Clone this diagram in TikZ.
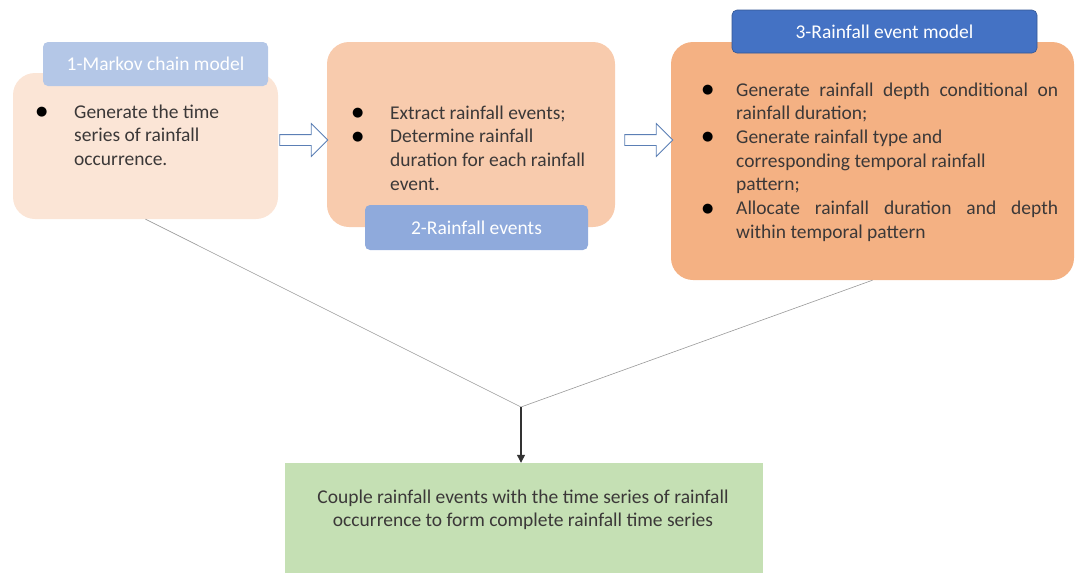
\documentclass[tikz,border=0pt]{standalone}
\usepackage{fontspec}
\setmainfont{Carlito}
\newfontfamily\symfont{DejaVu Sans}
\usetikzlibrary{shapes.arrows,arrows.meta}

\definecolor{peachlight}{HTML}{FBE5D6}
\definecolor{peachmid}{HTML}{F8CBAD}
\definecolor{peachdark}{HTML}{F4B183}
\definecolor{taglight}{HTML}{B4C7E7}
\definecolor{tagmid}{HTML}{8FAADC}
\definecolor{tagdark}{HTML}{4472C4}
\definecolor{greenbox}{HTML}{C5E0B4}
\definecolor{bodytext}{HTML}{3B3838}
\definecolor{arrowline}{HTML}{5B7FB5}

\newcommand{\dotmark}{\raisebox{2.5pt}{\symfont\fontsize{13}{13}\selectfont\textcolor{black}{●}}}

\tikzset{
    box/.style={rounded corners=22pt, inner sep=0},
    tag/.style={rounded corners=5pt, inner sep=0, text=white,
        font=\fontsize{19.5}{22}\selectfont},
    body/.style={anchor=base west, inner sep=0, text=bodytext,
        font=\fontsize{19.5}{23.7}\selectfont},
    hollow/.style={single arrow, draw=arrowline, fill=white, line width=0.8pt,
        inner sep=5pt, minimum height=48pt, single arrow head extend=11pt},
    link/.style={draw=gray!80, line width=0.6pt},
}

\begin{document}
\begin{tikzpicture}[x=1pt, y=-1pt]
    \useasboundingbox (0,0) rectangle (1075,573);

    % box 1
    \node[box, fill=peachlight, minimum width=265pt, minimum height=146pt] (box1) at (145.5,146) {};
    \node[tag, fill=taglight, minimum width=225pt, minimum height=44pt] (tag1) at (155.5,64) {1-Markov chain model};
    \node[body] (text1) at (36,118) {\begin{tabular}[t]{@{}p{38pt}@{}p{200pt}@{}}
        \dotmark & Generate the time\newline series of rainfall\newline occurrence.
    \end{tabular}};

    % box 2
    \node[box, fill=peachmid, minimum width=288pt, minimum height=185pt] (box2) at (471,134.5) {};
    \node[tag, fill=tagmid, minimum width=223pt, minimum height=45pt] (tag2) at (476.5,227.5) {2-Rainfall events};
    \node[body] (text2) at (352,119) {\begin{tabular}[t]{@{}p{38pt}@{}p{225pt}@{}}
        \dotmark & Extract rainfall events;\\
        \dotmark & Determine rainfall\newline duration for each rainfall\newline event.
    \end{tabular}};

    % box 3
    \node[box, fill=peachdark, minimum width=403pt, minimum height=238pt] (box3) at (872.5,161) {};
    \node[tag, fill=tagdark, draw=tagdark!75!black, line width=0.6pt,
        minimum width=305pt, minimum height=43pt] (tag3) at (884.5,31.5) {3-Rainfall event model};
    \node[body] (text3) at (702,96) {\begin{tabular}[t]{@{}p{34pt}@{}p{322pt}@{}}
        \dotmark & Generate rainfall depth conditional on\linebreak rainfall duration;\\
        \dotmark & Generate rainfall type and\newline corresponding temporal rainfall\newline pattern;\\
        \dotmark & Allocate rainfall duration and depth\linebreak within temporal pattern
    \end{tabular}};

    % hollow arrows
    \node[hollow] (arr1) at (301,140) {};
    \node[hollow] (arr2) at (646,140) {};

    % result
    \node[fill=greenbox, minimum width=478pt, minimum height=110pt, inner sep=0] (result) at (524,518) {};
    \node[anchor=base, align=center, inner sep=0, text=bodytext,
        font=\fontsize{19.5}{23}\selectfont] (resulttext) at (523,526)
        {Couple rainfall events with the time series of rainfall\\occurrence to form complete rainfall time series};

    % connectors
    \coordinate (join) at (521,407);
    \draw[link] (box1.south) -- (join);
    \draw[link] (box3.south) -- (join);
    \draw[line width=1.2pt, draw=black!80, -{Triangle[length=8pt,width=8pt]}] (join) -- (join |- result.north);

\end{tikzpicture}
\end{document}
